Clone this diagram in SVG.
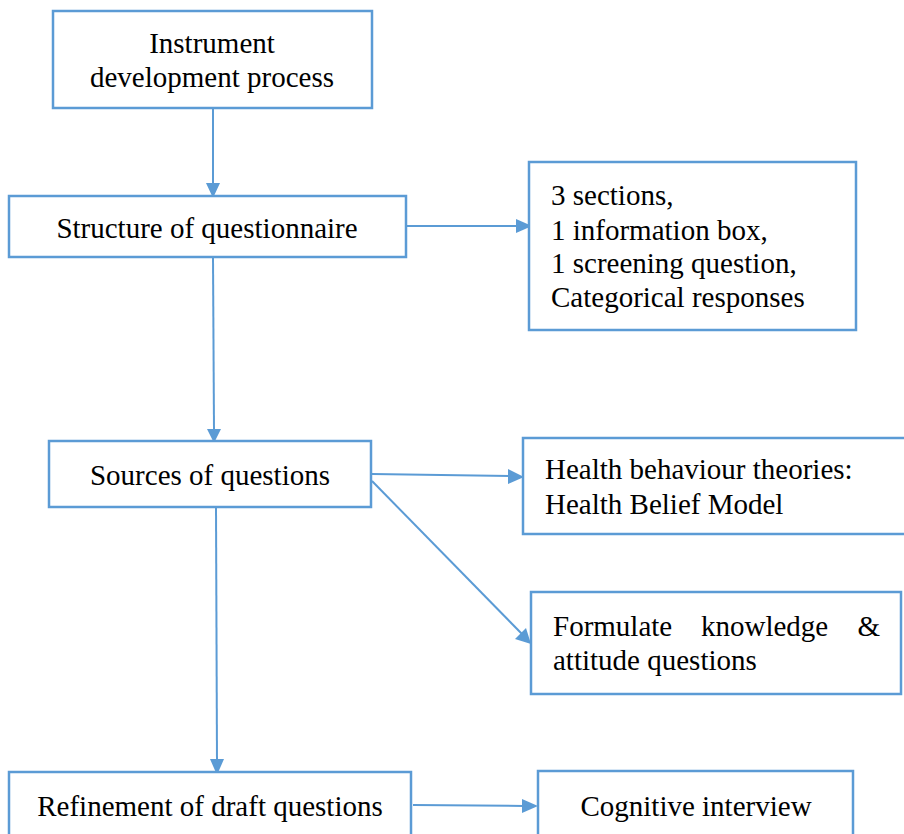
<svg xmlns="http://www.w3.org/2000/svg" width="904" height="834" viewBox="0 0 904 834">
<defs>
<style>
.box{fill:#fff;stroke:#5B9BD5;stroke-width:2.5}
.t{font-family:"Liberation Serif","Times New Roman",serif;font-size:29px;fill:#000}
.c{text-anchor:middle}
.ln{stroke:#5B9BD5;stroke-width:2;fill:none}
.hd{fill:#5B9BD5}
</style>
</defs>
<rect width="904" height="834" fill="#fff"/>
<g id="connectors">
<line class="ln" x1="213" y1="108" x2="213" y2="185"/>
<path class="hd" d="M206,183 L220,183 L213,198 z"/>
<line class="ln" x1="406" y1="226" x2="518" y2="226"/>
<path class="hd" d="M516,219 L532,226 L516,233 z"/>
<line class="ln" x1="213" y1="257" x2="214" y2="431"/>
<path class="hd" d="M207,429 L221,429 L214,443 z"/>
<line class="ln" x1="372" y1="474" x2="510" y2="476"/>
<path class="hd" d="M508,469 L524,477 L508,484 z"/>
<line class="ln" x1="372" y1="481" x2="522" y2="634"/>
<path class="hd" d="M515,639 L526,628 L531,644 z"/>
<line class="ln" x1="216" y1="507" x2="217" y2="761"/>
<path class="hd" d="M210,759 L224,759 L217,775 z"/>
<line class="ln" x1="413" y1="805" x2="524" y2="806"/>
<path class="hd" d="M522,799 L538,806 L522,813 z"/>
</g>
<g id="n1">
<rect class="box" x="53" y="11" width="319" height="97"/>
<text class="t c" x="212" y="53">Instrument</text>
<text class="t c" x="212" y="87">development process</text>
</g>
<g id="n2">
<rect class="box" x="9" y="196" width="397" height="61"/>
<text class="t c" x="207" y="238">Structure of questionnaire</text>
</g>
<g id="n3">
<rect class="box" x="529" y="162" width="327" height="168"/>
<text class="t" x="551" y="205">3 sections,</text>
<text class="t" x="551" y="240">1 information box,</text>
<text class="t" x="551" y="273">1 screening question,</text>
<text class="t" x="551" y="307">Categorical responses</text>
</g>
<g id="n4">
<rect class="box" x="49" y="441" width="322" height="66"/>
<text class="t c" x="210" y="485">Sources of questions</text>
</g>
<g id="n5">
<rect class="box" x="523" y="438" width="390" height="96"/>
<text class="t" x="545" y="479">Health behaviour theories:</text>
<text class="t" x="545" y="514">Health Belief Model</text>
</g>
<g id="n6">
<rect class="box" x="531" y="592" width="370" height="102"/>
<text class="t" x="553" y="636">Formulate</text>
<text class="t" x="701" y="636">knowledge</text>
<text class="t" x="880" y="636" text-anchor="end">&amp;</text>
<text class="t" x="553" y="670">attitude questions</text>
</g>
<g id="n7">
<rect class="box" x="9" y="772" width="402" height="80"/>
<text class="t c" x="210" y="816">Refinement of draft questions</text>
</g>
<g id="n8">
<rect class="box" x="538" y="771" width="315" height="80"/>
<text class="t c" x="696" y="816">Cognitive interview</text>
</g>
</svg>
